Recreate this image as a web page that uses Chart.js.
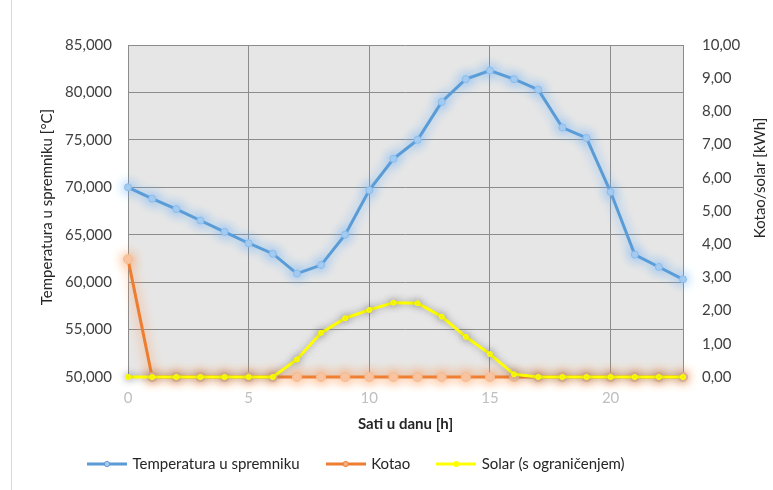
<!DOCTYPE html>
<html>
<head>
<meta charset="utf-8">
<script src="https://cdn.jsdelivr.net/npm/chart.js@4.4.1/dist/chart.umd.min.js"></script>
<style>
  html, body { margin: 0; padding: 0; background: #ffffff; }
  #wrap { width: 773px; height: 490px; }
</style>
</head>
<body>
<div id="wrap"><canvas id="c" width="773" height="490"></canvas></div>
<script>
// ---- data ----
const hours = [0,1,2,3,4,5,6,7,8,9,10,11,12,13,14,15,16,17,18,19,20,21,22,23];
const temperatura = [70.0,68.8,67.7,66.5,65.3,64.1,63.0,60.9,61.8,65.0,69.7,73.0,75.0,79.0,81.4,82.3,81.4,80.3,76.3,75.2,69.5,62.9,61.6,60.3];
const kotao = [3.55,0,0,0,0,0,0,0,0,0,0,0,0,0,0,0,0,0,0,0,0,0,0,0];
const solar = [0,0,0,0,0,0,0,0.53,1.33,1.77,2.02,2.24,2.22,1.82,1.21,0.69,0.08,0,0,0,0,0,0,0];
const seriesNames = ['Temperatura u spremniku', 'Kotao', 'Solar (s ograničenjem)'];
const xTickValues = [0,5,10,15,20];
const leftTickLabels = ['50,000','55,000','60,000','65,000','70,000','75,000','80,000','85,000'];
const rightTickLabels = ['0,00','1,00','2,00','3,00','4,00','5,00','6,00','7,00','8,00','9,00','10,00'];
const xTitle = 'Sati u danu [h]';
const yLeftTitle = 'Temperatura u spremniku [°C]';
const yRightTitle = 'Kotao/solar [kWh]';

const FONT = 'Lato, "Open Sans", "Liberation Sans", sans-serif';

function pts(arr) { return hours.map((h, i) => ({ x: h, y: arr[i] })); }

function makeSymbol(line, fill) {
  const c = document.createElement('canvas');
  c.width = 40; c.height = 10;
  const g = c.getContext('2d');
  g.strokeStyle = line; g.lineWidth = 3;
  g.beginPath(); g.moveTo(0, 5); g.lineTo(40, 5); g.stroke();
  g.fillStyle = fill; g.strokeStyle = line; g.lineWidth = 1;
  g.beginPath(); g.arc(20, 5, 2.6, 0, Math.PI * 2); g.fill(); g.stroke();
  return c;
}

const glowPlugin = {
  id: 'glow',
  beforeDatasetDraw(chart, args) {
    const ds = chart.data.datasets[args.index];
    const ctx = chart.ctx;
    ctx.save();
    if (ds.glowColor) { ctx.shadowColor = ds.glowColor; ctx.shadowBlur = ds.glowBlur; }
  },
  afterDatasetDraw(chart) { chart.ctx.restore(); }
};

const framePlugin = {
  id: 'frame',
  beforeDraw(chart) {
    const { ctx, chartArea: a } = chart;
    ctx.save();
    ctx.fillStyle = '#ffffff';
    ctx.fillRect(0, 0, chart.width, chart.height);
    ctx.fillStyle = '#e7e6e6';
    ctx.fillRect(a.left, a.top, a.right - a.left, a.bottom - a.top);
    ctx.strokeStyle = '#d9d9d9'; ctx.lineWidth = 1;
    ctx.beginPath(); ctx.moveTo(11.5, 0); ctx.lineTo(11.5, chart.height); ctx.stroke();
    ctx.restore();
  },
  beforeDatasetsDraw(chart) {
    const { ctx, chartArea: a } = chart;
    ctx.save();
    ctx.strokeStyle = '#8c8c8c'; ctx.lineWidth = 1;
    ctx.beginPath(); ctx.moveTo(Math.round(a.right) + 0.5, a.top); ctx.lineTo(Math.round(a.right) + 0.5, a.bottom); ctx.stroke();
    ctx.restore();
  },
  afterLayout(chart) {
    const lg = chart.legend;
    if (lg) {
      const pad = lg.options.labels.padding;
      const h = lg.height;
      lg.left = 89 - pad; lg.right = chart.width;
      lg.top = 464 - pad - 7.5; lg.bottom = lg.top + h;
    }
  },
  afterDraw(chart) {
    const { ctx, chartArea: a } = chart;
    ctx.save();
    ctx.fillStyle = '#262626';
    ctx.textAlign = 'center'; ctx.textBaseline = 'middle';
    ctx.font = 'bold 15px ' + FONT;
    ctx.fillText(xTitle, (a.left + a.right) / 2, 424);
    ctx.font = '15px ' + FONT;
    ctx.translate(47, 207); ctx.rotate(-Math.PI / 2);
    ctx.fillText(yLeftTitle, 0, 0);
    ctx.restore();
    ctx.save();
    ctx.fillStyle = '#262626';
    ctx.textAlign = 'center'; ctx.textBaseline = 'middle';
    ctx.font = '15px ' + FONT;
    ctx.translate(760, 178); ctx.rotate(-Math.PI / 2);
    ctx.fillText(yRightTitle, 0, 0);
    ctx.restore();
  }
};

const symbols = [makeSymbol('#5b9bd5', '#a9cdef'), makeSymbol('#ed7d31', '#f4b183'), makeSymbol('#ffff00', '#ffff00')];

new Chart(document.getElementById('c'), {
  type: 'line',
  data: {
    datasets: [
      {
        label: seriesNames[0], data: pts(temperatura), yAxisID: 'yL', order: 0, clip: false,
        borderColor: '#5b9bd5', borderWidth: 3, tension: 0,
        pointRadius: 3.5, pointBackgroundColor: '#a9cdef', pointBorderColor: '#8cbde9', pointBorderWidth: 1,
        glowColor: 'rgba(100,175,250,1)', glowBlur: 12
      },
      {
        label: seriesNames[1], data: pts(kotao), yAxisID: 'yR', order: 2, clip: false,
        borderColor: '#ed7d31', borderWidth: 3, tension: 0,
        pointRadius: 4.5, pointBackgroundColor: '#f8c8a6', pointBorderColor: '#f6bb92', pointBorderWidth: 1,
        glowColor: 'rgba(250,150,80,1)', glowBlur: 12
      },
      {
        label: seriesNames[2], data: pts(solar), yAxisID: 'yR', order: 1, clip: false,
        borderColor: '#ffff00', borderWidth: 3, tension: 0,
        pointRadius: 2.5, pointBackgroundColor: '#ffff00', pointBorderColor: '#ffff00', pointBorderWidth: 1,
        glowColor: 'rgba(100,100,100,0.6)', glowBlur: 7
      }
    ]
  },
  options: {
    responsive: false,
    animation: false,
    devicePixelRatio: 1,
    layout: { padding: { left: 12, right: 0, top: 45, bottom: 0 } },
    plugins: {
      tooltip: { enabled: false },
      legend: {
        position: 'bottom',
        align: 'start',
        labels: {
          usePointStyle: true,
          pointStyleWidth: 36,
          padding: 28,
          color: '#262626',
          font: { family: FONT, size: 15 },
          generateLabels(chart) {
            return chart.data.datasets.map((ds, i) => ({
              text: ds.label, pointStyle: symbols[i], fillStyle: ds.borderColor,
              strokeStyle: ds.borderColor, lineWidth: 0, hidden: false, datasetIndex: i, fontColor: '#262626'
            }));
          }
        }
      }
    },
    scales: {
      x: {
        type: 'linear', position: 'bottom', min: 0, max: 23,
        afterBuildTicks(s) { s.ticks = xTickValues.map(v => ({ value: v })); },
        afterFit(s) { s.height = s.chart.height - 377 - (s.chart.legend ? s.chart.legend.height : 0); },
        ticks: { color: '#bfbfbf', font: { family: FONT, size: 15 }, padding: 12, maxRotation: 0, callback: v => String(v) },
        grid: { color: '#8c8c8c', drawTicks: false, lineWidth: 1 },
        border: { display: false }
      },
      yL: {
        type: 'linear', position: 'left', min: 50, max: 85,
        afterBuildTicks(s) { s.ticks = leftTickLabels.map((t, i) => ({ value: 50 + 5 * i })); },
        afterFit(s) { s.width = 116; },
        ticks: { color: '#404040', font: { family: FONT, size: 15 }, padding: 16,
          callback: v => leftTickLabels[Math.round((v - 50) / 5)] },
        grid: { color: '#8c8c8c', drawTicks: false, lineWidth: 1 },
        border: { display: false }
      },
      yR: {
        type: 'linear', position: 'right', min: 0, max: 10,
        afterBuildTicks(s) { s.ticks = rightTickLabels.map((t, i) => ({ value: i })); },
        afterFit(s) { s.width = 90; },
        ticks: { color: '#404040', font: { family: FONT, size: 15 }, padding: 19,
          callback: v => rightTickLabels[Math.round(v)] },
        grid: { display: false, drawTicks: false },
        border: { display: false }
      }
    }
  },
  plugins: [framePlugin, glowPlugin]
});
</script>
</body>
</html>
